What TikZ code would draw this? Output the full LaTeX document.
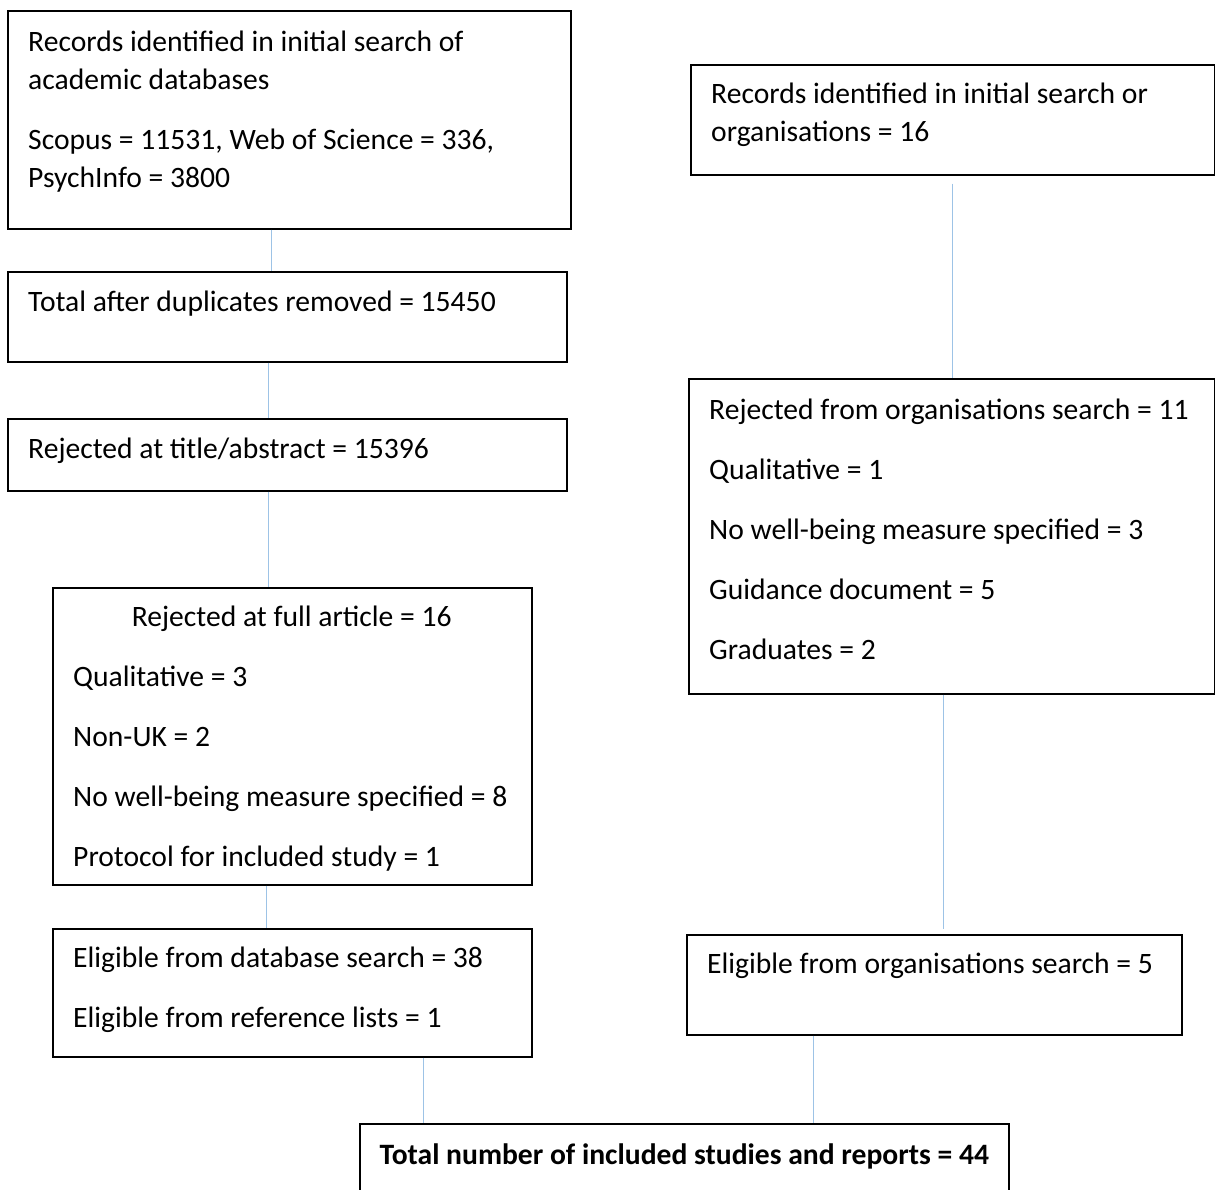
\documentclass[tikz,border=0pt]{standalone}
\usepackage{fontspec}
\setmainfont{Carlito}
\usetikzlibrary{calc}
\definecolor{linkblue}{RGB}{157,195,230}
\newcommand{\boxtext}[2]{\parbox[t]{#1}{\raggedright\setlength{\parskip}{21.6pt}#2}}
\begin{document}
\begin{tikzpicture}[x=1pt,y=-1pt,
  box/.style={draw=black,line width=1.6pt,inner sep=0pt,anchor=north west},
  txt/.style={inner sep=0pt,anchor=base west,font=\fontsize{29.6pt}{38.4pt}\selectfont},
  link/.style={draw=linkblue,line width=0.8pt}]
\useasboundingbox (0,0) rectangle (1215,1189);

% left column
\node[box,minimum width=563pt,minimum height=218pt] (recdb) at (7,10) {};
\node[txt] (recdbtext) at ([xshift=21pt,yshift=-41pt]recdb.north west)
  {\boxtext{530pt}{Records identified in initial search of\\academic databases\par
  Scopus = 11531, Web of Science = 336,\\PsychInfo = 3800}};

\node[box,minimum width=559pt,minimum height=90pt] (dedup) at (7,271) {};
\node[txt] (deduptext) at ([xshift=21pt,yshift=-40pt]dedup.north west)
  {Total after duplicates removed = 15450};

\node[box,minimum width=559pt,minimum height=72pt] (titleabs) at (7,418) {};
\node[txt] (titleabstext) at ([xshift=21pt,yshift=-40pt]titleabs.north west)
  {Rejected at title/abstract = 15396};

\node[box,minimum width=479pt,minimum height=297pt] (fullart) at (52,587) {};
\node[txt] (fullarttext) at ([xshift=21pt,yshift=-39pt]fullart.north west)
  {\boxtext{437pt}{{\centering Rejected at full article = 16\par}
  Qualitative = 3\par
  Non-UK = 2\par
  No well-being measure specified = 8\par
  Protocol for included study = 1}};

\node[box,minimum width=479pt,minimum height=128pt] (eligdb) at (52,928) {};
\node[txt] (eligdbtext) at ([xshift=21pt,yshift=-39pt]eligdb.north west)
  {\boxtext{437pt}{Eligible from database search = 38\par
  Eligible from reference lists = 1}};

% right column
\node[box,minimum width=524pt,minimum height=110pt] (recorg) at (690,64) {};
\node[txt] (recorgtext) at ([xshift=21pt,yshift=-39pt]recorg.north west)
  {\boxtext{490pt}{Records identified in initial search or\\organisations = 16}};

\node[box,minimum width=526pt,minimum height=315pt] (rejorg) at (688,378) {};
\node[txt] (rejorgtext) at ([xshift=21pt,yshift=-41pt]rejorg.north west)
  {\boxtext{495pt}{Rejected from organisations search = 11\par
  Qualitative = 1\par
  No well-being measure specified = 3\par
  Guidance document = 5\par
  Graduates = 2}};

\node[box,minimum width=495pt,minimum height=100pt] (eligorg) at (686,934) {};
\node[txt] (eligorgtext) at ([xshift=21pt,yshift=-39pt]eligorg.north west)
  {Eligible from organisations search = 5};

% bottom
\node[box,minimum width=649pt,minimum height=100pt] (total) at (359,1123) {};
\node[txt,anchor=base,font=\fontsize{29.6pt}{38.4pt}\selectfont\bfseries] (totaltext)
  at ([yshift=-41pt]total.north) {Total number of included studies and reports = 44};

% connectors
\draw[link] ([xshift=-17.5pt]recdb.south) -- ([xshift=-17.5pt]recdb.south |- dedup.north);
\draw[link] ([xshift=-18.5pt]dedup.south) -- ([xshift=-18.5pt]dedup.south |- titleabs.north);
\draw[link] ([xshift=-18.5pt]titleabs.south) -- ([xshift=-18.5pt]titleabs.south |- fullart.north);
\draw[link] ([xshift=-25.5pt]fullart.south) -- ([xshift=-25.5pt]fullart.south |- eligdb.north);
\draw[link] ([xshift=131.5pt]eligdb.south) -- ([xshift=131.5pt]eligdb.south |- total.north);
\draw[link,shorten <=8pt] (recorg.south) -- (recorg.south |- rejorg.north);
\draw[link,shorten >=5pt] ([xshift=-8pt]rejorg.south) -- ([xshift=-8pt]rejorg.south |- eligorg.north);
\draw[link] ([xshift=-120.5pt]eligorg.south) -- ([xshift=-120.5pt]eligorg.south |- total.north);
\end{tikzpicture}
\end{document}
